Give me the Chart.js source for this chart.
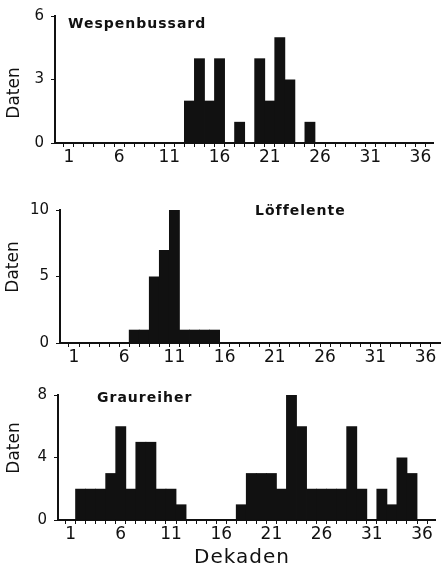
<!DOCTYPE html>
<html>
<head>
<meta charset="utf-8">
<script src="https://cdn.jsdelivr.net/npm/chart.js@4.4.1/dist/chart.umd.min.js"></script>
<style>
  html, body { margin: 0; padding: 0; background: #fff; overflow: hidden; }
  body { position: relative; width: 441px; height: 570px; }
  canvas { position: absolute; left: 0; }
</style>
</head>
<body>
<canvas id="wespen" width="441" height="180" style="top:0"></canvas>
<canvas id="loeffel" width="460" height="192" style="top:180px"></canvas>
<canvas id="grau" width="441" height="198" style="top:372px"></canvas>
<script>
// Dekaden (ten-day periods of the year) and counts per species
const decades = [1, 2, 3, 4, 5, 6, 7, 8, 9, 10, 11, 12, 13, 14, 15, 16, 17, 18,
  19, 20, 21, 22, 23, 24, 25, 26, 27, 28, 29, 30, 31, 32, 33, 34, 35, 36];
const tickLabels = [1, 6, 11, 16, 21, 26, 31, 36];

const wespenbussard = [0, 0, 0, 0, 0, 0, 0, 0, 0, 0, 0, 0, 2, 4, 2, 4, 0, 1,
  0, 4, 2, 5, 3, 0, 1, 0, 0, 0, 0, 0, 0, 0, 0, 0, 0, 0];
const loeffelente = [0, 0, 0, 0, 0, 0, 1, 1, 5, 7, 10, 1, 1, 1, 1, 0, 0, 0,
  0, 0, 0, 0, 0, 0, 0, 0, 0, 0, 0, 0, 0, 0, 0, 0, 0, 0];
const graureiher = [0, 2, 2, 2, 3, 6, 2, 5, 5, 2, 2, 1, 0, 0, 0, 0, 0, 1,
  3, 3, 3, 2, 8, 6, 2, 2, 2, 2, 6, 2, 0, 2, 1, 4, 3, 0];

const INK = '#111';
const FONT = 'DejaVu Sans';

// free text (species name, axis captions) placed in canvas pixels
const textLabels = {
  id: 'textLabels',
  afterDraw(chart, args, opts) {
    const ctx = chart.ctx;
    (opts.items || []).forEach(item => {
      ctx.save();
      ctx.font = item.font;
      ctx.fillStyle = INK;
      ctx.letterSpacing = item.spacing || '0px';
      ctx.textAlign = item.align || 'left';
      ctx.textBaseline = item.baseline || 'alphabetic';
      ctx.translate(item.x, item.y);
      if (item.rotate) ctx.rotate(item.rotate);
      ctx.fillText(item.text, 0, 0);
      ctx.restore();
    });
  }
};

function speciesLabel(text, x, y) {
  return { text, x, y, font: 'bold 14px ' + FONT, spacing: '1px' };
}

function datenLabel(x, y) {
  return { text: 'Daten', x, y, font: '17px ' + FONT, align: 'center',
           baseline: 'middle', rotate: -Math.PI / 2 };
}

function panel(id, values, yMax, yStep, frame, items) {
  return new Chart(document.getElementById(id), {
    type: 'bar',
    data: {
      datasets: [{
        data: decades.map((d, i) => ({ x: d, y: values[i] })),
        backgroundColor: INK,
        borderWidth: 0,
        // slightly wider than the slot so neighbouring bars overlap, no seams
        barPercentage: 1.08,
        categoryPercentage: 1
      }]
    },
    options: {
      responsive: false,
      animation: false,
      layout: { padding: { top: frame.top, right: frame.right, bottom: 0, left: 0 } },
      plugins: {
        legend: { display: false },
        tooltip: { enabled: false },
        textLabels: { items }
      },
      scales: {
        x: {
          type: 'linear',
          min: frame.xMin,
          max: frame.xMax,
          afterBuildTicks: s => { s.ticks = decades.map(v => ({ value: v })); },
          afterFit: s => { s.height = frame.xHeight; },
          ticks: {
            autoSkip: false,
            maxRotation: 0,
            padding: 0,
            color: INK,
            font: { family: FONT, size: 17 },
            callback: v => tickLabels.includes(v) ? String(v) : ''
          },
          grid: { drawOnChartArea: false, color: INK, tickLength: 4 },
          border: { color: INK, width: 2 }
        },
        y: {
          min: 0,
          max: yMax,
          afterFit: s => { s.width = frame.yWidth; },
          ticks: {
            stepSize: yStep,
            padding: 7,
            color: INK,
            font: { family: FONT, size: 15 }
          },
          grid: { drawOnChartArea: false, color: INK, tickLength: 4 },
          border: { color: INK, width: 2 }
        }
      }
    },
    plugins: [textLabels]
  });
}

panel('wespen', wespenbussard, 6, 3,
  { top: 15, right: 8, xHeight: 37, yWidth: 55, xMin: 0.14, xMax: 36.73 },
  [speciesLabel('Wespenbussard', 68, 28), datenLabel(15, 93)]);

panel('loeffel', loeffelente, 10, 5,
  { top: 30, right: 15, xHeight: 29, yWidth: 60, xMin: 0.14, xMax: 37.41 },
  [speciesLabel('Löffelente', 255, 35), datenLabel(14, 87)]);

panel('grau', graureiher, 8, 4,
  { top: 23, right: 6, xHeight: 50, yWidth: 58, xMin: 0.27, xMax: 36.77 },
  [speciesLabel('Graureiher', 97, 30), datenLabel(15, 76),
   { text: 'Dekaden', x: 242, y: 191, font: '20px ' + FONT, align: 'center', spacing: '1px' }]);
</script>
</body>
</html>
